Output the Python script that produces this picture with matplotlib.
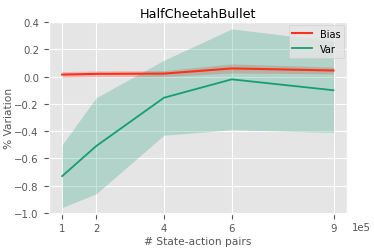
import matplotlib
matplotlib.use("Agg")
import matplotlib.pyplot as plt
import numpy as np

plt.style.use("ggplot")

x = [1, 2, 4, 6, 9]
xtick_labels = ["1", "2", "4", "6", "9"]
bias_mean = [0.015, 0.02, 0.022, 0.06, 0.045]
bias_lo = [-0.007, -0.002, 0.0, 0.027, 0.02]
bias_hi = [0.037, 0.042, 0.044, 0.093, 0.07]
var_mean = [-0.73, -0.51, -0.155, -0.02, -0.10]
var_lo = [-0.96, -0.86, -0.43, -0.39, -0.41]
var_hi = [-0.50, -0.155, 0.12, 0.35, 0.26]

fig, ax = plt.subplots(figsize=(3.74, 2.51), dpi=100)
fig.subplots_adjust(left=0.13, right=0.928, top=0.908, bottom=0.145)

xs = np.array(x) * 1e5
ax.plot(xs, bias_mean, color="#f8321e", lw=1.5, label="Bias")
ax.fill_between(xs, bias_lo, bias_hi, color="#f8321e", alpha=0.25, lw=0)
ax.plot(xs, var_mean, color="#149e74", lw=1.3, label="Var")
ax.fill_between(xs, var_lo, var_hi, color="#1a9e77", alpha=0.25, lw=0)

ax.set_xticks(xs)
ax.set_xticklabels(xtick_labels)
ax.text(1.015, -0.045, "1e5", transform=ax.transAxes, fontsize=7.3,
        color="#555555", ha="left", va="top")
ax.set_ylim(-1.005, 0.4)
ax.set_yticks([-1.0, -0.8, -0.6, -0.4, -0.2, 0.0, 0.2, 0.4])
ax.tick_params(labelsize=7.3)
ax.set_xlabel("# State-action pairs", fontsize=7.7, color="#555555", labelpad=2)
ax.set_ylabel("% Variation", fontsize=7.7, color="#555555")
ax.yaxis.set_label_coords(-0.117, 0.5)
ax.set_title("HalfCheetahBullet", fontsize=9.2, pad=4)
ax.legend(loc="upper right", fontsize=7, borderaxespad=0.3)

fig.savefig("out.png", dpi=100)
